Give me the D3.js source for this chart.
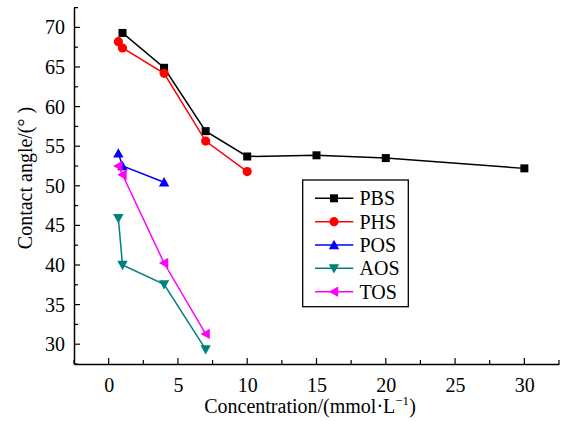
<!DOCTYPE html>
<html><head><meta charset="utf-8">
<script src="https://cdn.jsdelivr.net/npm/d3@7"></script>
<style>body{margin:0;background:#fff}text{font-family:"Liberation Serif","Times New Roman",serif}</style>
</head><body><svg id="c" width="562" height="421"></svg>
<script>
const seriesNames = ["PBS","PHS","POS","AOS","TOS"];
const colors = ["#000000","#ff0000","#0000ff","#008080","#ff00ff"];
const symbols = ["square","circle","up","down","left"];
const PBS = [[1,69.3],[4,64.9],[7,56.9],[10,53.7],[15,53.85],[20,53.5],[30,52.2]];
const PHS = [[0.7,68.2],[1,67.4],[4,64.2],[7,55.65],[10,51.8]];
const POS = [[0.7,54.1],[1,52.5],[4,50.45]];
const AOS = [[0.7,45.9],[1,40.0],[4,37.55],[7,29.35]];
const TOS = [[0.7,52.5],[1,51.4],[4,40.25],[7,31.3]];
const allData = [PBS,PHS,POS,AOS,TOS];
const xTicks = [0,5,10,15,20,25,30];
const yTicks = [30,35,40,45,50,55,60,65,70];

const svg = d3.select("#c");
const L=74,R=559,T=7.6,B=364;
const x = d3.scaleLinear().domain([-2.5,32.5]).range([L,R]);
const y = d3.scaleLinear().domain([27.5,72.5]).range([B,T]);

function marker(g, type, cx, cy, color){
  if(type==="square"){
    g.append("rect").attr("x",cx-4).attr("y",cy-4).attr("width",8).attr("height",8).attr("fill",color);
  } else if(type==="circle"){
    g.append("circle").attr("cx",cx).attr("cy",cy).attr("r",4.6).attr("fill",color);
  } else {
    const s=5.2; let p;
    if(type==="up") p=[[cx,cy-s],[cx+s,cy+s*0.8],[cx-s,cy+s*0.8]];
    else if(type==="down") p=[[cx,cy+s],[cx+s,cy-s*0.8],[cx-s,cy-s*0.8]];
    else p=[[cx-s,cy],[cx+s*0.8,cy-s],[cx+s*0.8,cy+s]];
    g.append("path").attr("d","M"+p.map(d=>d.join(",")).join("L")+"Z").attr("fill",color);
  }
}

// axes
const xMinor = d3.range(-2.5,32.51,2.5);
const yMinor = d3.range(27.5,72.51,2.5);
const ax = svg.append("g").attr("transform",`translate(0,${B})`)
  .call(d3.axisBottom(x).tickValues(xTicks).tickSize(0).tickPadding(14).tickFormat(d3.format("d")));
ax.select(".domain").attr("stroke","#000").attr("stroke-width",1.5);
ax.selectAll("text").attr("font-size",20).attr("fill","#000");
const ay = svg.append("g").attr("transform",`translate(${L},0)`)
  .call(d3.axisLeft(y).tickValues(yTicks).tickSize(0).tickPadding(9).tickFormat(d3.format("d")));
ay.select(".domain").attr("stroke","#000").attr("stroke-width",1.5);
ay.selectAll("text").attr("font-size",20).attr("fill","#000");
// inward ticks
svg.append("g").selectAll("line").data(xMinor).join("line")
  .attr("x1",d=>x(d)).attr("x2",d=>x(d)).attr("y1",B).attr("y2",d=>B-(Math.abs(d%5)<1e-6?6:4))
  .attr("stroke","#000").attr("stroke-width",1.2);
svg.append("g").selectAll("line").data(yMinor).join("line")
  .attr("y1",d=>y(d)).attr("y2",d=>y(d)).attr("x1",L).attr("x2",d=>L+(Math.abs(d%5)<1e-6?6:4))
  .attr("stroke","#000").attr("stroke-width",1.2);

// axis titles
svg.append("text").attr("x",310).attr("y",413).attr("text-anchor","middle").attr("font-size",20)
  .html('Concentration/(mmol·L<tspan dy="-8" font-size="13">−1</tspan><tspan dy="8">)</tspan>');
svg.append("text").attr("transform","translate(32,178) rotate(-90)").attr("text-anchor","middle").attr("font-size",20)
  .text("Contact angle/(° )");

// series
const line = d3.line().x(d=>x(d[0])).y(d=>y(d[1]));
allData.forEach((data,i)=>{
  const g = svg.append("g");
  g.append("path").datum(data).attr("d",line).attr("fill","none").attr("stroke",colors[i]).attr("stroke-width",1.5);
  data.forEach(d=>marker(g,symbols[i],x(d[0]),y(d[1]),colors[i]));
});

// legend
const lg = svg.append("g");
lg.append("rect").attr("x",302.7).attr("y",180).attr("width",105.6).attr("height",126.7)
  .attr("fill","#fff").attr("stroke","#000").attr("stroke-width",1.3);
seriesNames.forEach((n,i)=>{
  const cy = 198.3 + i*23.35;
  lg.append("line").attr("x1",315).attr("x2",353.3).attr("y1",cy).attr("y2",cy).attr("stroke",colors[i]).attr("stroke-width",1.5);
  marker(lg,symbols[i],334,cy,colors[i]);
  lg.append("text").attr("x",359.5).attr("y",cy+7).attr("font-size",20).text(n);
});
</script></body></html>
